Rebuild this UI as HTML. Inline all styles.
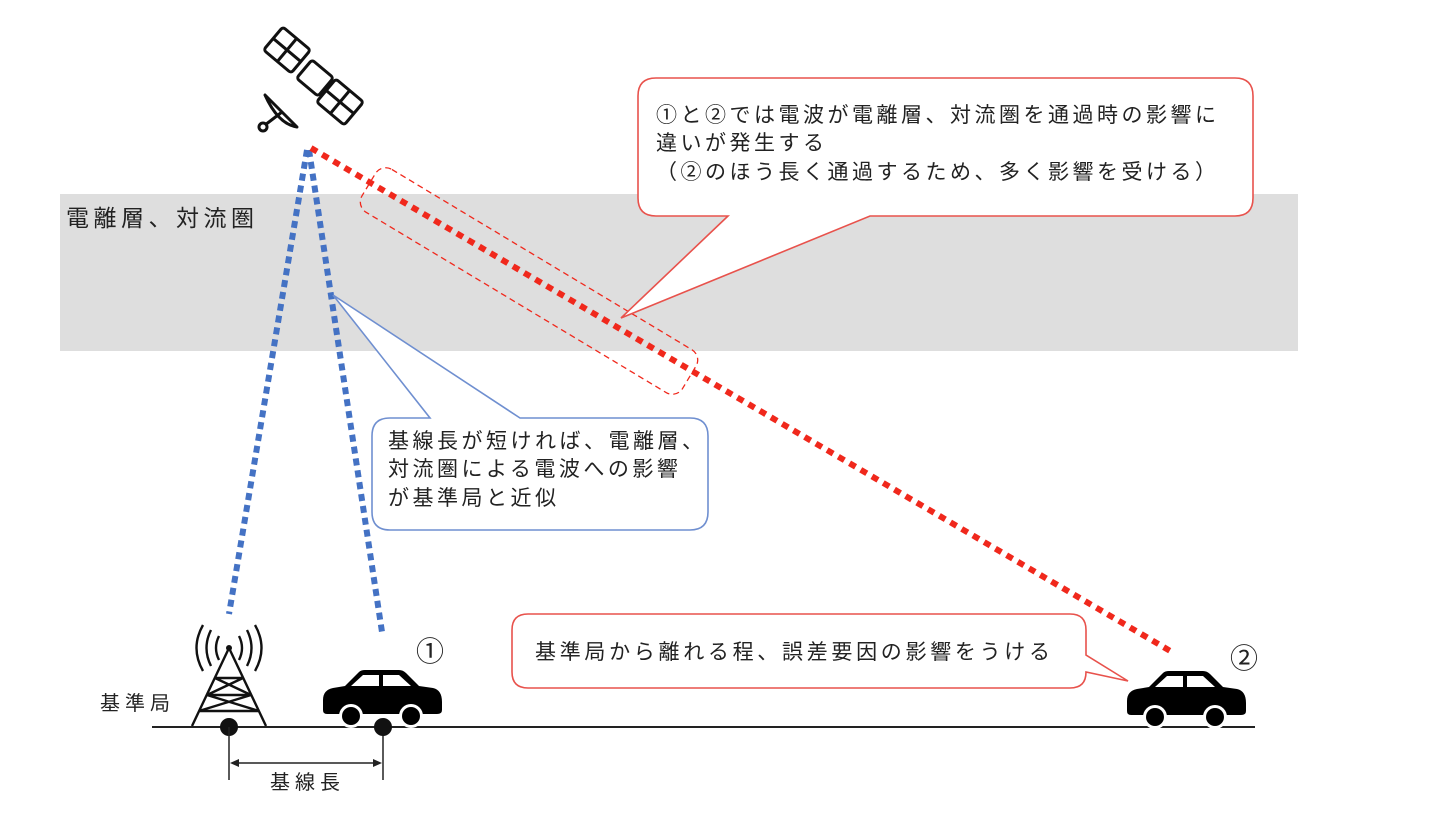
<!DOCTYPE html>
<html><head><meta charset="utf-8"><style>
body{margin:0;background:#fff;}
svg{display:block;}
text{font-family:"Liberation Sans","Noto Sans CJK JP",sans-serif;fill:#222;}
</style></head><body>
<svg width="1438" height="826" viewBox="0 0 1438 826" xmlns="http://www.w3.org/2000/svg">
<rect x="60" y="194" width="1238" height="157" fill="#dedede"/>
<text x="66" y="226" font-size="23" letter-spacing="4.5">電離層、対流圏</text>

<line x1="307" y1="150" x2="229" y2="614" stroke="#4472c4" stroke-width="6" stroke-dasharray="7,5"/>
<line x1="309" y1="150" x2="382" y2="632" stroke="#4472c4" stroke-width="6" stroke-dasharray="7,5"/>
<line x1="311" y1="148" x2="1172" y2="652" stroke="#f0281c" stroke-width="6" stroke-dasharray="7,6"/>

<g transform="translate(529,281) rotate(31)">
<rect x="-187" y="-25" width="374" height="50" rx="12" fill="none" stroke="#f0281c" stroke-width="1.3" stroke-dasharray="6,4"/>
</g>

<path d="M656,78 H1235 Q1253,78 1253,96 V198 Q1253,216 1235,216 H870 L621,318 L728,216 H656 Q638,216 638,198 V96 Q638,78 656,78 Z" fill="#fff" stroke="#e8524c" stroke-width="1.6"/>
<text font-size="21" letter-spacing="3.5"><tspan x="656" y="122">①と②では電波が電離層、対流圏を通過時の影響に</tspan><tspan x="656" y="150">違いが発生する</tspan><tspan x="656" y="179">（②のほう長く通過するため、多く影響を受ける）</tspan></text>

<path d="M390,418 H430 L333,295 L520,418 H690 Q708,418 708,436 V512 Q708,530 690,530 H390 Q372,530 372,512 V436 Q372,418 390,418 Z" fill="#fff" stroke="#6f8fd0" stroke-width="1.6"/>
<text font-size="21" letter-spacing="3.5"><tspan x="388" y="448">基線長が短ければ、電離層、</tspan><tspan x="388" y="476">対流圏による電波への影響</tspan><tspan x="388" y="505">が基準局と近似</tspan></text>

<path d="M528,614 H1070 Q1086,614 1086,630 V655 L1128,681 L1086,672 Q1086,688 1070,688 H528 Q512,688 512,672 V630 Q512,614 528,614 Z" fill="#fff" stroke="#e8524c" stroke-width="1.6"/>
<text x="535" y="659" font-size="21" letter-spacing="3.7">基準局から離れる程、誤差要因の影響をうける</text>

<g stroke="#111" stroke-width="3" fill="none" stroke-linejoin="round">
<g transform="translate(287,50) rotate(40)"><rect x="-18" y="-15" width="36" height="30" rx="3"/><line x1="0" y1="-15" x2="0" y2="15"/><line x1="-18" y1="0" x2="18" y2="0"/></g>
<g transform="translate(315,78) rotate(40)"><rect x="-14" y="-12" width="28" height="24" rx="3"/></g>
<g transform="translate(340,102) rotate(40)"><rect x="-18" y="-15" width="36" height="30" rx="3"/><line x1="0" y1="-15" x2="0" y2="15"/><line x1="-18" y1="0" x2="18" y2="0"/></g>
<path d="M265,95 Q278,124 297,127 Z"/><line x1="282" y1="112" x2="265" y2="125"/><circle cx="263" cy="127" r="4"/>
</g>

<line x1="152" y1="727" x2="1255" y2="727" stroke="#222" stroke-width="2"/>

<g stroke="#111" stroke-width="2.4" fill="none">
<path d="M229,648 L192,726 M229,648 L266,726 M215,678 L243,678 M207,695 L251,695 M199,711 L259,711 M215,678 L251,695 M243,678 L207,695 M207,695 L259,711 M251,695 L199,711"/>
<path d="M219,636 Q213,648 219,660 M239,636 Q245,648 239,660 M211,630 Q202,648 211,666 M247,630 Q256,648 247,666 M203,625 Q190,648 203,671 M255,625 Q268,648 255,671"/>
</g>
<circle cx="229" cy="648" r="3" fill="#111"/>
<circle cx="229" cy="727" r="9" fill="#111"/>
<text x="100" y="710" font-size="20" letter-spacing="5">基準局</text>

<g stroke="#222" stroke-width="1.5"><line x1="229" y1="727" x2="229" y2="780"/><line x1="383" y1="727" x2="383" y2="780"/><line x1="232" y1="763" x2="380" y2="763"/></g>
<path d="M230,763 l9,-4 v8 Z M382,763 l-9,-4 v8 Z" fill="#222"/>
<text x="270" y="789" font-size="20" letter-spacing="5">基線長</text>

<defs><g id="car">
<path d="M0,30 Q0,20 10,18 L22,16 L36,2 Q38,0 42,0 H76 Q80,0 83,3 L96,16 L110,18 Q119,20 119,32 V40 Q119,44 114,44 H4 Q0,44 0,40 Z" fill="#000"/>
<path d="M28,16 L40,5 H56 V16 Z M60,5 H76 L88,16 H60 Z" fill="#fff"/>
<circle cx="28" cy="46" r="12" fill="#fff"/><circle cx="28" cy="46" r="9" fill="#000"/>
<circle cx="88" cy="46" r="12" fill="#fff"/><circle cx="88" cy="46" r="9" fill="#000"/>
</g></defs>
<use href="#car" x="323" y="670"/>
<use href="#car" x="1127" y="671"/>
<circle cx="383" cy="727" r="9" fill="#111"/>
<text x="416" y="661" font-size="28">①</text>
<text x="1230" y="668" font-size="28">②</text>
</svg>
</body></html>
